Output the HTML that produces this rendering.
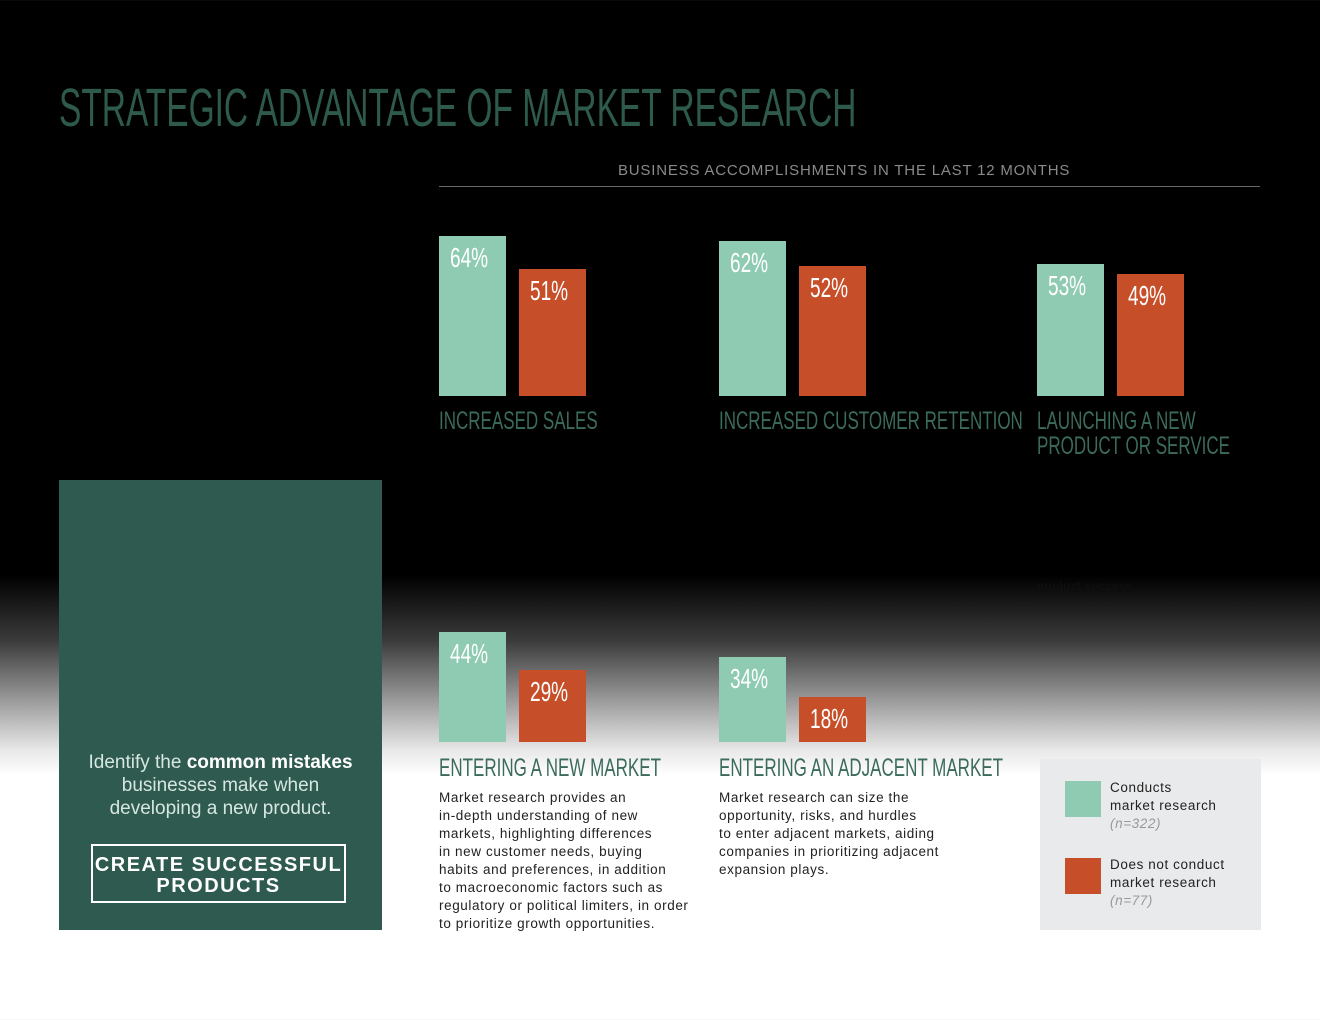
<!DOCTYPE html>
<html><head><meta charset="utf-8">
<style>
body{margin:0;width:1320px;height:1020px;overflow:hidden;font-family:"Liberation Sans",sans-serif;
background:linear-gradient(to bottom,#000 0px,#000 575px,#3a3a3a 640px,#9a9a9a 700px,#e8e8e8 750px,#fff 775px,#fff 1020px);position:relative}
.abs{position:absolute}
.cond{display:inline-block;transform:scaleX(.68);transform-origin:left top;white-space:nowrap}
.title{left:59px;top:78px;color:#2e5a4c;font-size:54px;line-height:60px}
.sub{left:618px;top:162px;color:#8a8a8a;font-size:15px;letter-spacing:.8px}
.rule{left:439px;top:186px;width:821px;height:1px;background:#666}
.cat{color:#3b6b5d;font-size:25px;line-height:25px}
.pct{color:#fff;font-size:28px;line-height:28px}
.desc{font-size:13.5px;line-height:18px;color:#222;letter-spacing:.6px}
</style></head><body>
<div class="abs title"><span class="cond" style="transform:scaleX(.62)">STRATEGIC ADVANTAGE OF MARKET RESEARCH</span></div>
<div class="abs sub">BUSINESS ACCOMPLISHMENTS IN THE LAST 12 MONTHS</div>
<div class="abs rule"></div>

<div class="abs" style="left:59px;top:480px;width:323px;height:450px;background:#2f5a4f">
  <div class="abs" style="left:0;top:271px;width:323px;text-align:center;color:#d6e6e0;font-size:19px;line-height:23px">Identify the <b style="color:#fff">common mistakes</b><br>businesses make when<br>developing a new product.</div>
  <div class="abs" style="left:32px;top:364px;width:255px;height:59px;border:2px solid #fff;color:#fff;font-weight:bold;font-size:20px;line-height:21px;text-align:center;letter-spacing:1.5px;box-sizing:border-box;padding-top:9px">CREATE SUCCESSFUL<br>PRODUCTS</div>
</div>

<div class="abs" style="left:1037px;top:579px;font-size:12px;color:#111;letter-spacing:.6px">product success</div>

<div class="abs desc" style="left:439px;top:789px">Market research provides an<br>in-depth understanding of new<br>markets, highlighting differences<br>in new customer needs, buying<br>habits and preferences, in addition<br>to macroeconomic factors such as<br>regulatory or political limiters, in order<br>to prioritize growth opportunities.</div>
<div class="abs desc" style="left:719px;top:789px">Market research can size the<br>opportunity, risks, and hurdles<br>to enter adjacent markets, aiding<br>companies in prioritizing adjacent<br>expansion plays.</div>

<div class="abs" style="left:1040px;top:759px;width:221px;height:171px;background:#e9eaeb">
  <div class="abs" style="left:25px;top:22px;width:36px;height:36px;background:#8ecbb2"></div>
  <div class="abs" style="left:70px;top:20px;font-size:13.5px;line-height:18px;color:#222;letter-spacing:.6px">Conducts<br>market research<br><i style="color:#999">(n=322)</i></div>
  <div class="abs" style="left:25px;top:99px;width:36px;height:36px;background:#c64e28"></div>
  <div class="abs" style="left:70px;top:97px;font-size:13.5px;line-height:18px;color:#222;letter-spacing:.6px">Does not conduct<br>market research<br><i style="color:#999">(n=77)</i></div>
</div>

<div id="chart"></div>
<script>
const categories=["INCREASED SALES","INCREASED CUSTOMER RETENTION","LAUNCHING A NEW|PRODUCT OR SERVICE","ENTERING A NEW MARKET","ENTERING AN ADJACENT MARKET"];
const conducts=[64,62,53,44,34];
const doesNot=[51,52,49,29,18];
const groupX=[439,719,1037,439,719];
const baseY=[396,396,396,742,742];
const labelY=[409,409,409,756,756];
const pxPer=2.5, barW=67, gap=13;
function y(v){return v*pxPer;}
const root=document.getElementById('chart');
function bar(x,b,v,col,name){
  const d=document.createElement('div');
  
  
  d.className='abs';
  d.style.cssText=`left:${x}px;top:${b-y(v)}px;width:${barW}px;height:${y(v)}px;background:${col}`;
  const t=document.createElement('div');
  
  
  t.className='abs pct';
  t.style.cssText='left:11px;top:8px';
  t.innerHTML='<span class="cond">'+v+'%</span>';
  d.appendChild(t);root.appendChild(d);
}
categories.forEach((c,i)=>{
  bar(groupX[i],baseY[i],conducts[i],'#8ecbb2','bar-conducts-'+i);
  bar(groupX[i]+barW+gap,baseY[i],doesNot[i],'#c64e28','bar-does-not-'+i);
  const l=document.createElement('div');
  
  
  l.className='abs cat';
  l.style.cssText=`left:${groupX[i]}px;top:${labelY[i]}px`;
  l.innerHTML=c.split('|').map(s=>'<span class="cond">'+s+'</span>').join('<br>');
  root.appendChild(l);
});
</script>
</body></html>
